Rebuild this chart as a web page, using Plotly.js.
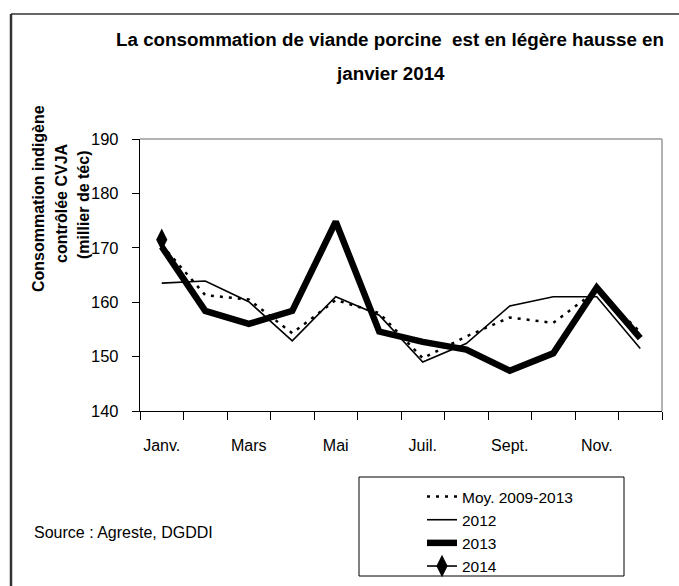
<!DOCTYPE html>
<html>
<head>
<meta charset="utf-8">
<script src="https://cdn.plot.ly/plotly-3.0.1.min.js"></script>
<style>html,body{margin:0;padding:0;background:#fff;}</style>
</head>
<body>
<div id="chart" style="width:679px;height:586px;"></div>
<script>
var months = ['Janv.','Févr.','Mars','Avril','Mai','Juin','Juil.','Août','Sept.','Oct.','Nov.','Déc.'];
var tickLabels = ['Janv.','','Mars','','Mai','','Juil.','','Sept.','','Nov.',''];
var moy0913 = [170.5, 161.3, 160.5, 154.3, 160.4, 158.0, 149.7, 153.7, 157.2, 156.2, 162.2, 154.5];
var y2012 = [163.5, 163.9, 160.1, 152.9, 161.0, 157.6, 149.0, 152.4, 159.3, 161.0, 161.0, 151.5];
var y2013 = [170.2, 158.4, 156.0, 158.4, 174.8, 154.6, 152.7, 151.3, 147.4, 150.6, 162.7, 153.4];
var y2014 = [171.5];
var months2014 = ['Janv.'];

var FONT = '"Liberation Sans", Arial, sans-serif';

var traces = [
  {x: months, y: moy0913, name: 'Moy. 2009-2013', type: 'scatter', mode: 'lines',
   line: {color: '#000', width: 2.5, dash: '3px,6px'}},
  {x: months, y: y2012, name: '2012', type: 'scatter', mode: 'lines',
   line: {color: '#000', width: 1.6}},
  {x: months, y: y2013, name: '2013', type: 'scatter', mode: 'lines',
   line: {color: '#000', width: 6.5}},
  {x: months2014, y: y2014, name: '2014', type: 'scatter', mode: 'lines+markers',
   line: {color: '#000', width: 1.6},
   marker: {symbol: 'diamond-tall', size: 16, color: '#000'}}
];

function px2x(px){ return (px - 140) / 522; }
function px2y(py){ return (411 - py) / 272; }

var layout = {
  width: 679, height: 586,
  margin: {l: 140, r: 17, t: 139, b: 175, pad: 0, autoexpand: false},
  paper_bgcolor: '#fff', plot_bgcolor: '#fff',
  showlegend: true,
  font: {family: FONT, size: 16, color: '#000'},
  xaxis: {
    type: 'category', categoryorder: 'array', categoryarray: months,
    tickvals: months, ticktext: tickLabels, tickson: 'boundaries',
    range: [-0.5, 11.5], tickangle: 0, automargin: false,
    showgrid: false, zeroline: false,
    showline: true, linecolor: '#000', linewidth: 1.2,
    ticks: 'outside', ticklen: 8, tickcolor: '#000', tickwidth: 1,
    ticklabelstandoff: 20,
    tickfont: {family: FONT, size: 16, color: '#000'}
  },
  yaxis: {
    range: [140, 190], dtick: 10, tick0: 140, automargin: false,
    showgrid: false, zeroline: false,
    showline: true, linecolor: '#000', linewidth: 1.2,
    ticks: 'outside', ticklen: 7, tickcolor: '#000', tickwidth: 1,
    ticklabelstandoff: 10,
    tickfont: {family: FONT, size: 16.5, color: '#000'}
  },
  legend: {
    xref: 'container', yref: 'container',
    x: 422 / 679, y: 1 - 480 / 586, xanchor: 'left', yanchor: 'top',
    borderwidth: 0, bgcolor: 'rgba(0,0,0,0)',
    font: {family: FONT, size: 15.5, color: '#000'},
    tracegroupgap: 0
  },
  shapes: [
    {type: 'line', xref: 'paper', yref: 'paper', x0: px2x(11), x1: px2x(679), y0: px2y(14), y1: px2y(14),
     line: {color: '#333', width: 1.5}},
    {type: 'line', xref: 'paper', yref: 'paper', x0: px2x(11), x1: px2x(11), y0: px2y(14), y1: px2y(586),
     line: {color: '#333', width: 2.5}},
    {type: 'line', xref: 'paper', yref: 'paper', x0: 0, x1: 1, y0: 1, y1: 1,
     line: {color: '#999', width: 1.5}},
    {type: 'line', xref: 'paper', yref: 'paper', x0: 1, x1: 1, y0: 0, y1: 1,
     line: {color: '#999', width: 1.5}},
    {type: 'rect', xref: 'paper', yref: 'paper', x0: px2x(359), x1: px2x(624), y0: px2y(477), y1: px2y(576),
     line: {color: '#000', width: 1}, fillcolor: 'rgba(0,0,0,0)', layer: 'below'}
  ],
  annotations: [
    {text: '<b>La consommation de viande porcine  est en légère hausse en</b>', xref: 'paper', yref: 'paper',
     x: px2x(390), y: px2y(39), xanchor: 'center', yanchor: 'middle', showarrow: false,
     font: {family: FONT, size: 18.8, color: '#000'}},
    {text: '<b>janvier 2014</b>', xref: 'paper', yref: 'paper',
     x: px2x(390), y: px2y(73), xanchor: 'center', yanchor: 'middle', showarrow: false,
     font: {family: FONT, size: 18.8, color: '#000'}},
    {text: '<b>Consommation indigène</b>', xref: 'paper', yref: 'paper', textangle: -90,
     x: px2x(38), y: px2y(199), xanchor: 'center', yanchor: 'middle', showarrow: false,
     font: {family: FONT, size: 16, color: '#000'}},
    {text: '<b>contrôlée CVJA</b>', xref: 'paper', yref: 'paper', textangle: -90,
     x: px2x(61), y: px2y(203), xanchor: 'center', yanchor: 'middle', showarrow: false,
     font: {family: FONT, size: 16, color: '#000'}},
    {text: '<b>(millier de téc)</b>', xref: 'paper', yref: 'paper', textangle: -90,
     x: px2x(83), y: px2y(205), xanchor: 'center', yanchor: 'middle', showarrow: false,
     font: {family: FONT, size: 16, color: '#000'}},
    {text: 'Source : Agreste, DGDDI', xref: 'paper', yref: 'paper',
     x: px2x(32), y: px2y(532), xanchor: 'left', yanchor: 'middle', showarrow: false,
     font: {family: FONT, size: 16, color: '#000'}}
  ]
};

Plotly.newPlot('chart', traces, layout, {displayModeBar: false, staticPlot: true});
</script>
</body>
</html>
